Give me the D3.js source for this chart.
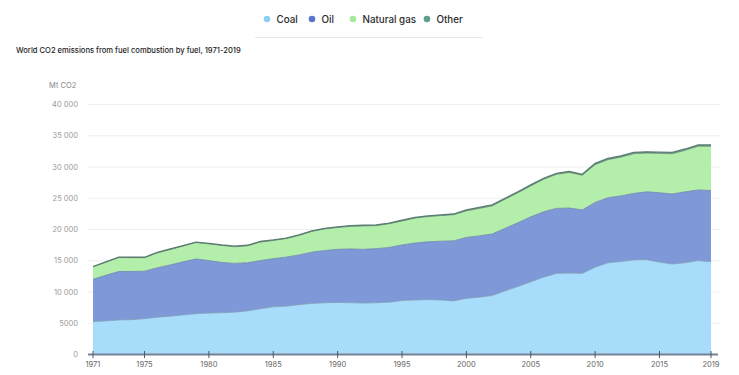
<!DOCTYPE html>
<html>
<head>
<meta charset="utf-8">
<script src="https://cdn.jsdelivr.net/npm/d3@7"></script>
<style>
  body { margin: 0; background: #fff; font-family: Inter, "Noto Sans", sans-serif; }
  svg text { font-family: Inter, "Noto Sans", sans-serif; }
</style>
</head>
<body>
<svg id="chart" width="739" height="375"></svg>
<script>
'use strict';

var years = d3.range(1971, 2020);
var fuels = ['Coal', 'Oil', 'Natural gas', 'Other'];

var coal = [5170, 5300, 5450, 5500, 5650, 5900, 6050, 6250, 6450, 6550,
  6600, 6700, 6900, 7250, 7550, 7650, 7900, 8100, 8200, 8250,
  8200, 8150, 8200, 8300, 8550, 8650, 8700, 8650, 8500, 8900,
  9100, 9350, 10100, 10800, 11550, 12300, 12900, 12950, 12900, 13900,
  14600, 14800, 15050, 15100, 14700, 14400, 14600, 14950, 14750];
var oil = [6780, 7300, 7750, 7700, 7600, 7900, 8200, 8500, 8750, 8400,
  8050, 7800, 7700, 7700, 7700, 7850, 7950, 8200, 8350, 8500,
  8600, 8600, 8650, 8750, 8900, 9100, 9250, 9400, 9600, 9750,
  9800, 9850, 10000, 10200, 10400, 10450, 10400, 10400, 10150, 10350,
  10400, 10500, 10650, 10850, 11100, 11200, 11350, 11300, 11400];
var gas = [1990, 2090, 2240, 2220, 2170, 2390, 2490, 2540, 2640, 2670,
  2720, 2670, 2720, 2970, 2920, 2970, 3120, 3320, 3470, 3490,
  3640, 3740, 3690, 3790, 3840, 3990, 4040, 4090, 4190, 4250,
  4400, 4500, 4650, 4800, 4950, 5200, 5450, 5700, 5550, 6050,
  6100, 6200, 6350, 6200, 6300, 6450, 6650, 7000, 7100];
var other = [60, 60, 60, 60, 60, 60, 60, 60, 60, 80,
  80, 80, 80, 80, 80, 80, 80, 80, 80, 110,
  110, 110, 110, 110, 110, 110, 110, 110, 110, 150,
  150, 150, 150, 150, 150, 150, 150, 150, 150, 200,
  200, 200, 200, 200, 200, 200, 200, 200, 200];

var yTicks = [0, 5000, 10000, 15000, 20000, 25000, 30000, 35000, 40000];
var xTicks = [1971, 1975, 1980, 1985, 1990, 1995, 2000, 2005, 2010, 2015, 2019];

var colors = ['#a7dcfa', '#7e98d8', '#b4eeab', '#5e9c8c'];
var lineColors = ['#7f9fb8', '#6a7fae', '#6f8f7a', '#5a7d70'];
var dotColors = ['#8fcdf2', '#5a75c8', '#a6e89c', '#5c9e8f'];

var rows = years.map(function (y, i) {
  return { year: y, 'Coal': coal[i], 'Oil': oil[i], 'Natural gas': gas[i], 'Other': other[i] };
});

var svg = d3.select('#chart'),
    margin = { top: 104, right: 28, bottom: 21, left: 93 },
    width = 711 - margin.left,
    height = 354 - margin.top;

var x = d3.scaleLinear().domain([1971, 2019]).range([margin.left, margin.left + width]),
    y = d3.scaleLinear().domain([0, 40000]).range([margin.top + height, margin.top]);

// legend
var legendX = [267, 312, 353, 427];
var legend = svg.append('g').attr('class', 'legend');
fuels.forEach(function (f, i) {
  var g = legend.append('g').attr('transform', 'translate(' + legendX[i] + ',19)');
  g.append('circle').attr('r', 3.3).attr('fill', dotColors[i]);
  g.append('text').attr('x', 9.5).attr('y', 3.5).attr('font-size', 9.8).attr('fill', '#2a2a2a')
    .attr('font-weight', 500).text(f);
});
svg.append('line').attr('x1', 255).attr('x2', 483).attr('y1', 37.5).attr('y2', 37.5)
  .attr('stroke', '#e8e8e8');

svg.append('text').attr('x', 16).attr('y', 52.5).attr('font-size', 7.6).attr('fill', '#222')
  .attr('font-weight', 500)
  .text('World CO2 emissions from fuel combustion by fuel, 1971-2019');

svg.append('text').attr('x', 49).attr('y', 88).attr('font-size', 7.5).attr('fill', '#888')
  .text('Mt CO2');

// grid + y labels
var fmt = function (d) {
  return d >= 10000 ? d3.format(',')(d).replace(/,/g, ' ') : String(d);
};
svg.append('g').selectAll('line').data(yTicks.slice(1)).enter().append('line')
  .attr('x1', 88).attr('x2', 720)
  .attr('y1', function (d) { return y(d) + 0.5; })
  .attr('y2', function (d) { return y(d) + 0.5; })
  .attr('stroke', '#eeeeee');
svg.append('g').selectAll('text').data(yTicks).enter().append('text')
  .attr('x', 78).attr('y', function (d) { return y(d) + 3; })
  .attr('text-anchor', 'end').attr('font-size', 7.5).attr('fill', '#9a9a9a')
  .text(fmt);

// stacked areas
var stack = d3.stack().keys(fuels);
var series = stack(rows);
var area = d3.area()
  .x(function (d) { return x(d.data.year); })
  .y0(function (d) { return y(d[0]); })
  .y1(function (d) { return y(d[1]); });
var topLine = d3.line()
  .x(function (d) { return x(d.data.year); })
  .y(function (d) { return y(d[1]); });

var layers = svg.append('g');
layers.selectAll('path.area').data(series).enter().append('path')
  .attr('class', 'area').attr('d', area)
  .attr('fill', function (d, i) { return colors[i]; });
layers.selectAll('path.top').data(series).enter().append('path')
  .attr('class', 'top').attr('d', topLine).attr('fill', 'none')
  .attr('stroke', function (d, i) { return lineColors[i]; })
  .attr('stroke-width', function (d, i) { return i === 3 ? 1.3 : 0.8; });

// x axis
var xAxis = svg.append('g').attr('transform', 'translate(0,' + (margin.top + height) + ')');
xAxis.append('line').attr('x1', 88).attr('x2', 718).attr('y1', 0.5).attr('y2', 0.5)
  .attr('stroke', '#76829a').attr('stroke-width', 2);
xAxis.selectAll('line.tick').data(xTicks).enter().append('line')
  .attr('class', 'tick')
  .attr('x1', function (d) { return x(d); }).attr('x2', function (d) { return x(d); })
  .attr('y1', -3).attr('y2', 4).attr('stroke', '#555');
xAxis.selectAll('text').data(xTicks).enter().append('text')
  .attr('x', function (d) { return x(d); }).attr('y', 13)
  .attr('text-anchor', 'middle').attr('font-size', 7.5).attr('fill', '#666')
  .text(function (d) { return d; });
</script>
</body>
</html>
